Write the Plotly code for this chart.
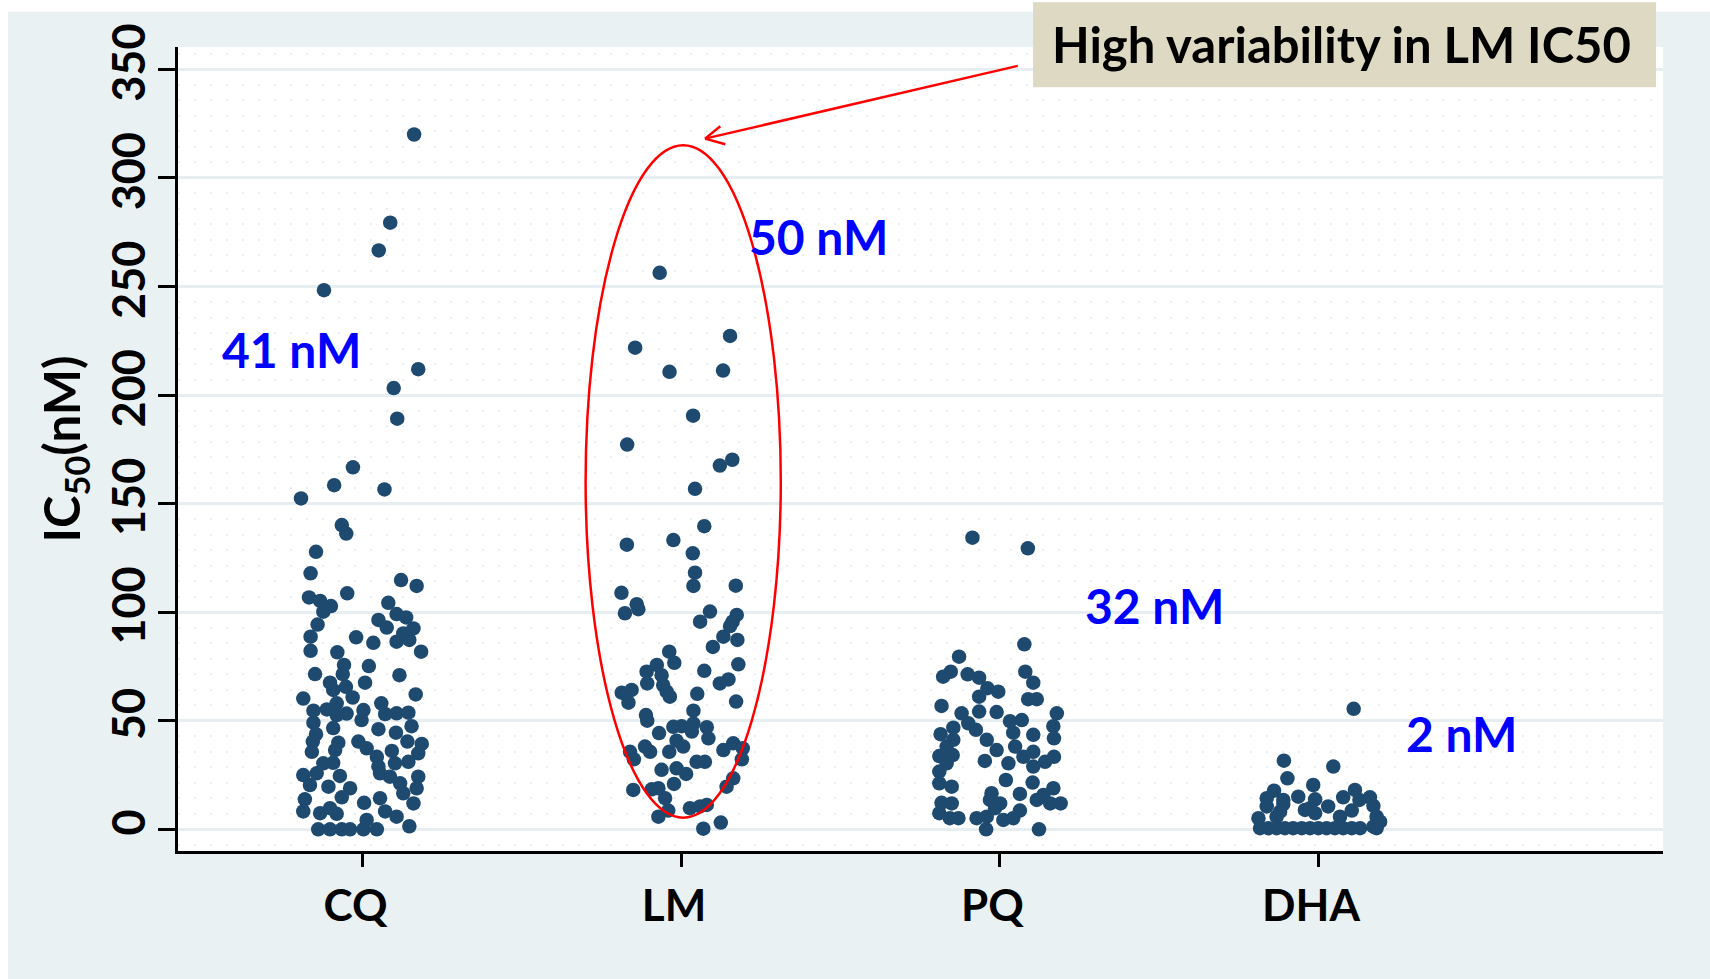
import plotly.graph_objects as go

categories = ["CQ", "LM", "PQ", "DHA"]
medians_text = ["41 nM", "50 nM", "32 nM", "2 nM"]

# jitter offsets (category units) and IC50 values (nM)
cq_jitter = [0.162, 0.087, 0.051, -0.121, 0.175, 0.098, 0.109, -0.030, -0.089, 0.069, -0.193, -0.065, -0.051,
             -0.146, -0.163, 0.121, 0.170, -0.168, -0.133, -0.048, -0.099, 0.081, -0.123, 0.107, 0.137, 0.050,
             0.076, -0.141, 0.160, 0.128, -0.163, -0.020, 0.034, 0.107, 0.147, 0.184, -0.163, -0.079, 0.020,
             -0.058, -0.149, 0.116, -0.062, 0.008, -0.102, -0.052, -0.092, 0.167, -0.186, -0.031, -0.081, 0.059,
             -0.154, -0.112, -0.050, 0.003, 0.071, 0.107, 0.144, -0.081, -0.154, -0.003, 0.154, -0.092, 0.050,
             0.105, -0.146, -0.156, -0.076, -0.013, 0.141, 0.186, -0.159, -0.086, 0.013, 0.045, 0.092, 0.175,
             -0.123, -0.092, 0.050, 0.102, 0.144, -0.186, -0.144, -0.071, 0.055, 0.086, 0.175, -0.165, -0.039,
             -0.107, 0.118, 0.170, -0.181, -0.065, 0.005, 0.055, 0.128, 0.160, -0.186, -0.133, -0.102, -0.081,
             0.071, 0.107, 0.013, 0.147, -0.139, -0.102, -0.065, -0.039, 0.003, 0.045]
cq_values = [320.0, 279.4, 266.6, 248.3, 211.9, 203.2, 189.1, 166.7, 158.5, 156.5, 152.4, 140.1, 136.2,
             127.8, 117.9, 114.8, 112.1, 106.8, 105.2, 108.7, 102.8, 104.3, 100.2, 99.1, 97.6, 96.4,
             92.9, 94.3, 92.5, 90.2, 88.7, 88.4, 85.9, 86.4, 87.2, 81.8, 82.2, 81.5, 75.2,
             75.7, 71.5, 71.0, 71.5, 67.5, 67.5, 65.6, 64.2, 62.1, 60.2, 60.7, 58.0, 58.0,
             54.6, 55.2, 53.3, 54.9, 53.1, 53.4, 53.7, 52.6, 49.1, 50.3, 47.5, 46.6, 46.1,
             44.5, 43.8, 40.4, 39.9, 40.4, 40.4, 39.3, 35.7, 36.5, 37.3, 33.4, 36.1, 35.0,
             30.4, 30.6, 28.9, 30.4, 31.1, 25.0, 25.8, 24.6, 25.8, 24.2, 24.2, 20.4, 18.9,
             19.6, 21.2, 18.9, 13.8, 14.7, 12.2, 14.3, 16.6, 11.9, 8.2, 7.4, 9.7, 7.1,
             8.2, 5.8, 4.3, 1.4, 0, 0, 0, 0, 0, 0]

lm_jitter = [-0.067, -0.144, 0.154, -0.036, 0.132, 0.038, -0.169, 0.161, 0.122, 0.044, 0.073, -0.170, -0.024,
             0.037, 0.044, 0.039, 0.172, -0.187, -0.139, -0.134, -0.176, 0.091, 0.175, 0.162, 0.060, 0.154,
             0.133, 0.177, 0.100, -0.037, -0.021, -0.076, 0.180, -0.108, 0.073, -0.061, 0.149, -0.106, 0.122,
             -0.056, -0.186, -0.155, -0.045, -0.035, 0.051, -0.165, 0.173, -0.110, -0.106, 0.039, 0.039, -0.024,
             0.002, 0.081, -0.069, 0.034, 0.086, -0.014, 0.007, 0.164, -0.160, -0.113, -0.097, -0.037, 0.133,
             0.194, -0.148, 0.049, 0.075, 0.191, -0.061, -0.014, 0.016, 0.164, 0.143, -0.150, -0.092, -0.071,
             -0.022, -0.050, -0.040, 0.028, 0.060, 0.081, -0.071, 0.070, 0.125]
lm_values = [256.3, 221.8, 227.2, 210.7, 211.3, 190.5, 177.2, 170.2, 167.5, 156.8, 139.6, 131.1, 133.2,
             127.1, 118.2, 112.1, 112.2, 108.9, 103.7, 101.4, 99.5, 100.3, 98.7, 95.6, 95.6, 93.6,
             88.7, 87.2, 84.0, 81.8, 76.7, 75.7, 76.0, 72.6, 73.0, 71.0, 69.0, 67.2, 67.2,
             66.4, 62.9, 64.2, 63.4, 61.1, 62.4, 58.3, 58.8, 52.6, 50.0, 54.6, 48.7, 47.2,
             47.5, 47.0, 44.3, 45.0, 41.9, 40.8, 38.1, 39.6, 35.7, 38.1, 35.7, 35.7, 36.5,
             37.3, 32.2, 31.1, 31.1, 32.2, 27.4, 28.1, 25.5, 23.5, 19.6, 18.1, 18.4, 18.9,
             20.9, 14.3, 8.6, 9.7, 10.5, 11.2, 5.8, 0.3, 3.1]

pq_jitter = [-0.085, 0.089, 0.078, -0.127, -0.153, -0.177, -0.100, -0.064, 0.081, 0.106, -0.038, -0.004,
             -0.064, 0.090, 0.117, -0.182, -0.064, -0.009, 0.180, -0.119, 0.033, 0.070, -0.145, -0.098,
             -0.074, 0.043, 0.169, -0.185, 0.106, 0.171, -0.145, -0.040, -0.166, 0.049, -0.009, 0.106,
             -0.189, -0.147, 0.075, 0.171, -0.046, 0.028, 0.143, -0.166, 0.106, -0.189, 0.020, 0.104,
             -0.189, -0.150, -0.025, 0.064, 0.169, 0.117, 0.138, -0.182, -0.150, -0.030, 0.002, 0.159,
             0.192, -0.014, 0.064, -0.189, -0.156, -0.129, -0.072, -0.040, 0.012, 0.043, -0.042, 0.124]
pq_values = [134.3, 129.4, 85.2, 79.5, 72.6, 70.3, 71.4, 69.8, 72.6, 67.5, 65.0, 63.4,
             61.1, 59.9, 59.9, 56.8, 54.2, 54.0, 53.4, 53.4, 49.8, 50.3, 46.8, 48.8,
             45.8, 44.5, 47.5, 43.8, 43.5, 41.9, 41.2, 41.2, 38.1, 38.1, 36.5, 35.7,
             33.7, 34.2, 33.4, 33.4, 31.5, 30.4, 31.1, 30.4, 28.9, 26.6, 22.7, 21.5,
             21.2, 19.6, 16.6, 16.3, 18.9, 13.5, 15.8, 12.2, 11.9, 13.5, 11.9, 11.9,
             11.9, 9.7, 8.6, 7.4, 5.1, 5.1, 5.1, 5.8, 4.3, 5.1, 0, 0]

dha_jitter = [0.112, -0.107, 0.048, -0.096, -0.015, -0.138, 0.116, -0.161, -0.062, -0.109, -0.009, 0.079,
              0.163, -0.161, -0.109, 0.032, 0.174, -0.009, 0.106, -0.187, -0.130, 0.069, 0.184,
              -0.182, -0.156, -0.130, -0.104, -0.078, -0.051, -0.025, 0.001, 0.027, 0.053, 0.079, 0.106,
              0.132, 0.184, 0.174, 0.195, -0.041, -0.025, 0.130, -0.119]
dha_values = [55.5, 31.6, 28.9, 23.5, 20.4, 17.8, 18.1, 14.3, 15.0, 13.5, 13.8, 14.7,
              14.7, 10.5, 11.6, 10.5, 10.8, 7.4, 8.6, 5.1, 5.8, 5.8, 5.8,
              0.5, 0.5, 0.5, 0.5, 0.5, 0.5, 0.5, 0.5, 0.5, 0.5, 0.5, 0.5,
              0.5, 0.5, 1.2, 3.5, 8.9, 9.7, 13.5, 8.1]

label_x = [0.776, 2.433, 3.488, 4.449]
label_y = [221.1, 272.9, 103.2, 44.3]

series = [(cq_jitter, cq_values), (lm_jitter, lm_values), (pq_jitter, pq_values), (dha_jitter, dha_values)]

DOT = "#1E4A70"
FONT = "Lato"

fig = go.Figure()
for i, (jit, vals) in enumerate(series):
    fig.add_trace(go.Scatter(
        x=[i + 1 + j for j in jit], y=vals, mode="markers",
        marker=dict(color=DOT, size=14.5, line=dict(width=0)),
        name=categories[i], showlegend=False, hoverinfo="y"))

W, H = 1710, 979
L, R, T, B = 178, 47, 47, 128

shapes = [
    # white strips at the top and left of the page
    dict(type="rect", xref="paper", yref="paper", x0=-0.2, x1=1.1, y0=1.04380, y1=1.2,
         fillcolor="white", line=dict(width=0), layer="below"),
    dict(type="rect", xref="paper", yref="paper", x0=-0.2, x1=-0.11448, y0=-0.2, y1=1.2,
         fillcolor="white", line=dict(width=0), layer="below"),
    # red ellipse around LM
    dict(type="circle", xref="x", yref="y", x0=1.7005, x1=2.3133, y0=5.34, y1=315.05,
         line=dict(color="#FF0000", width=2.5)),
    # arrow
    dict(type="line", xref="x", yref="y", x0=3.0572, y0=351.6, x1=2.0754, y1=318.1,
         line=dict(color="#FF0000", width=2.5)),
    dict(type="line", xref="x", yref="y", x0=2.0754, y0=318.1, x1=2.1234, y1=323.8,
         line=dict(color="#FF0000", width=2.5)),
    dict(type="line", xref="x", yref="y", x0=2.0754, y0=318.1, x1=2.1391, y1=315.5,
         line=dict(color="#FF0000", width=2.5)),
    # callout box
    dict(type="rect", xref="paper", yref="paper", x0=0.5758, x1=0.9953, y0=0.9499, y1=1.0556,
         fillcolor="#DDD9C3", line=dict(width=0)),
]

annotations = [
    dict(x=label_x[i], y=label_y[i], xref="x", yref="y", text=medians_text[i], showarrow=False,
         font=dict(family=FONT, size=48, color="#0000FF", weight="bold"),
         xanchor="center", yanchor="middle")
    for i in range(4)
]
annotations.append(dict(x=0.7832, y=1.004, xref="paper", yref="paper", text="High variability in LM IC50",
                        showarrow=False, font=dict(family=FONT, size=49, color="black", weight="bold"),
                        xanchor="center", yanchor="middle"))

fig.update_layout(
    width=W, height=H,
    margin=dict(l=L, r=R, t=T, b=B, pad=0),
    paper_bgcolor="#EAF1F3",
    plot_bgcolor="white",
    shapes=shapes,
    annotations=annotations,
    showlegend=False,
    xaxis=dict(
        range=[0.4207, 5.0832], tickvals=[1, 2, 3, 4], ticktext=categories,
        showgrid=False, zeroline=False, showline=True, linecolor="black", linewidth=2.5,
        ticks="outside", ticklen=13, tickwidth=2.5, tickcolor="black",
        tickfont=dict(family=FONT, size=44, color="black", weight="bold"),
        ticklabelstandoff=1, ticklabelshift=-7,
    ),
    yaxis=dict(
        range=[-10.0, 360.3], tickvals=[0, 50, 100, 150, 200, 250, 300, 350],
        showgrid=True, gridcolor="#E6EEF1", gridwidth=2.5, zeroline=False,
        showline=True, linecolor="black", linewidth=2.5,
        ticks="outside", ticklen=17, tickwidth=2.5, tickcolor="black",
        tickangle=-90,
        tickfont=dict(family=FONT, size=45, color="black", weight="bold"),
        ticklabelstandoff=-5,
        minor=dict(dtick=50 / 7, tick0=0, showgrid=True, gridcolor="#E9EEF0", gridwidth=2,
                   griddash="2px,14px", ticks=""),
        title=dict(text="IC<sub>50</sub>(nM)", standoff=6,
                   font=dict(family=FONT, size=49, color="black", weight="bold")),
    ),
)

fig.write_html("out.html", config={"displayModeBar": False},
               post_script="document.body.style.margin='0';document.body.style.overflow='hidden';")
